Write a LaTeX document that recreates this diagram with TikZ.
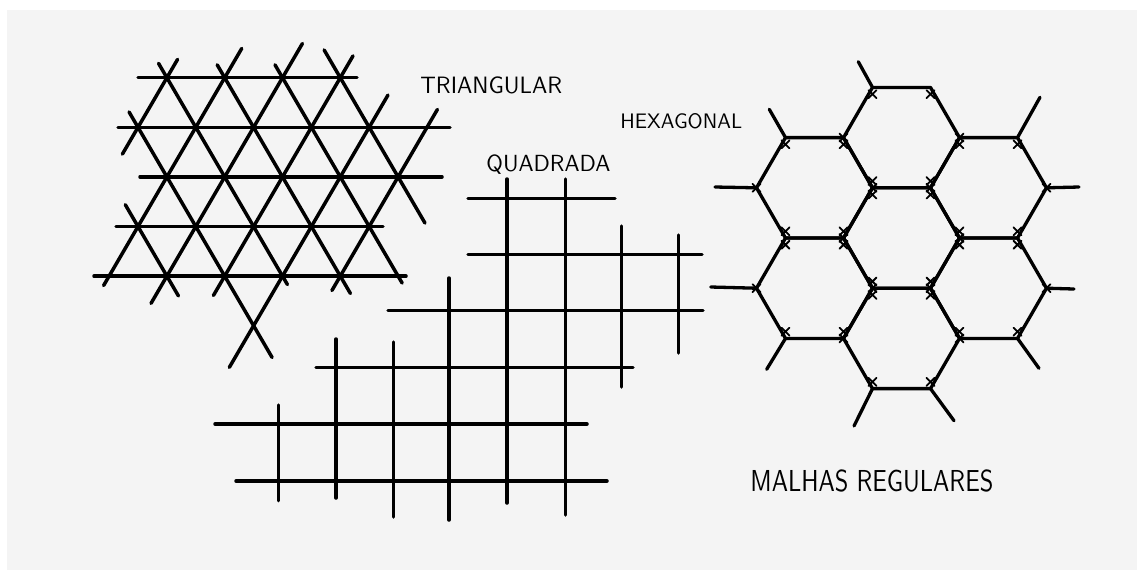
\documentclass[tikz,border=0pt]{standalone}
\usepackage{graphicx}
\definecolor{paper}{RGB}{244,244,244}
\tikzset{
  ink/.style={line width=1.75pt, line cap=round, black},
  hexink/.style={line width=1.65pt, line cap=round, line join=round, black},
  tick/.style={line width=0.9pt, line cap=round, black},
  lbl/.style={inner sep=0pt, anchor=base west, font=\sffamily}
}
\begin{document}
\begin{tikzpicture}[x=0.5pt, y=-0.5pt]
\useasboundingbox (0,0) rectangle (1137,570);
\fill[white] (0,0) rectangle (1137,570);
\fill[paper] (7,10) rectangle (1137,570);

% ---------- triangular mesh ----------
\foreach \r/\xa/\xb in {0/138/357, 1/118/450, 2/140/442, 3/116/383, 4/94/406}
  \draw[ink] (\xa,{77.7+49.6*\r}) -- (\xb,{77.7+49.6*\r});
\foreach \s/\a/\b in {1/-0.37/1.54, 3/-0.59/4.19, 5/-0.69/4.55, 7/-0.44/4.39, 9/0.35/5.84, 11/0.64/4.29}
  \draw[ink] ({138+28.9*(\s-(\a))},{77.7+49.6*(\a)}) -- ({138+28.9*(\s-(\b))},{77.7+49.6*(\b)});
\foreach \d/\a/\b in {-3/2.56/4.4, -1/0.69/5.64, 1/-0.29/4.17, 3/-0.26/4.35, 5/-0.26/4.14, 7/-0.56/2.93}
  \draw[ink] ({138+28.9*(\d+(\a))},{77.7+49.6*(\a)}) -- ({138+28.9*(\d+(\b))},{77.7+49.6*(\b)});

% ---------- square mesh ----------
\foreach \x/\ya/\yb in {278.5/405/500.7, 336/339/498, 393.5/342/517, 449/278/520, 507/179/503, 565.5/179/515, 621.7/226/387, 678.3/235/353}
  \draw[ink] (\x,\ya) -- (\x,\yb);
\foreach \y/\xa/\xb in {198.3/468/615, 254.5/468/702, 310.5/388/703, 367.7/316/633, 424/215/587, 481/236/607}
  \draw[ink] (\xa,\y) -- (\xb,\y);

% ---------- hexagonal mesh ----------
\foreach \cx/\cy in {901.5/238, 901.5/137.6, 901.5/338.4, 814.5/187.8, 988.5/187.8, 814.5/288.2, 988.5/288.2}{
  \draw[hexink] ({\cx+58},\cy) -- ({\cx+29},{\cy+50.2}) -- ({\cx-29},{\cy+50.2}) -- ({\cx-58},\cy) -- ({\cx-29},{\cy-50.2}) -- ({\cx+29},{\cy-50.2}) -- cycle;
  \foreach \ang in {0,60,...,300}
    \draw[tick] ({\cx+58*cos(\ang)-4},{\cy+50.2*sin(\ang)/0.866*0.866-4}) -- ++(8,8)
                ({\cx+58*cos(\ang)-4},{\cy+50.2*sin(\ang)/0.866*0.866+4}) -- ++(8,-8);
}
\foreach \xa/\ya/\xb/\yb in {872.5/87.4/858.3/61.7, 785.5/137.6/769.3/109.3, 1017.5/137.6/1040/97.3,
  756.5/187.8/715/187, 1046.5/187.8/1079/187, 756.5/288.2/710.7/287, 1046.5/288.2/1074/289,
  785.5/338.4/766.7/369.3, 1017.5/338.4/1039/368.3, 872.5/388.6/854/426, 930.5/388.6/954/420.7}
  \draw[hexink] (\xa,\ya) -- (\xb,\yb);

% ---------- labels ----------
\node[lbl] (ltri) at (420,93.3) {\resizebox{70.85pt}{8.35pt}{TRIANGULAR}};
\node[lbl] (lhex) at (620,128) {\resizebox{60.85pt}{7.5pt}{HEXAGONAL}};
\node[lbl] (lquad) at (486,171.7) {\resizebox{62pt}{8.35pt}{QUADRADA}};
\node[lbl] (lmal) at (750,491.7) {\resizebox{121.5pt}{10.85pt}{MALHAS REGULARES}};
\end{tikzpicture}
\end{document}
